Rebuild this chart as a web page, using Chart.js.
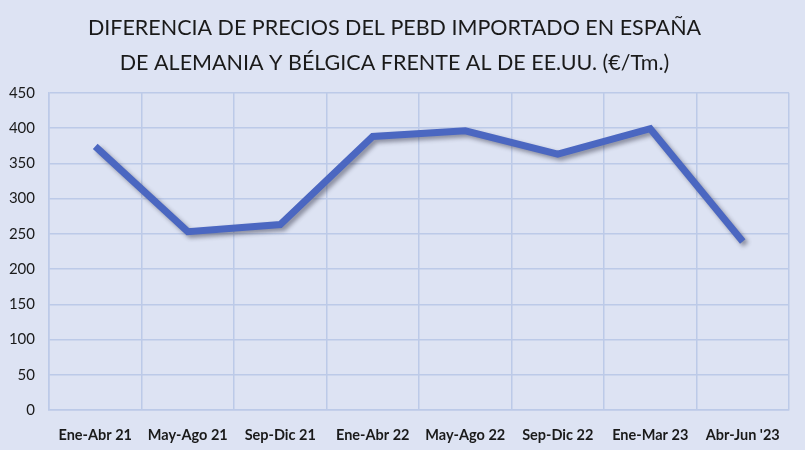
<!DOCTYPE html>
<html>
<head>
<meta charset="utf-8">
<script src="https://cdn.jsdelivr.net/npm/chart.js@4"></script>
<style>
	html, body { margin: 0; padding: 0; background: #dde3f3; }
	#wrap { width: 805px; height: 450px; }
</style>
</head>
<body>
<div id="wrap"><canvas id="chart"></canvas></div>
<script>
	const periodos = ["Ene-Abr 21", "May-Ago 21", "Sep-Dic 21", "Ene-Abr 22", "May-Ago 22", "Sep-Dic 22", "Ene-Mar 23", "Abr-Jun '23"];
	const diferencia = [374, 253, 263, 388, 396, 363, 399, 239];
	const titulo = [
		"DIFERENCIA DE PRECIOS DEL PEBD IMPORTADO EN ESPAÑA",
		"DE ALEMANIA Y BÉLGICA FRENTE AL DE EE.UU. (€/Tm.)",
	];

	const sombra = {
		id: "sombra",
		beforeDatasetDraw(chart) {
			const ctx = chart.ctx;
			ctx.save();
			ctx.shadowColor = "rgba(40, 40, 60, 0.45)";
			ctx.shadowBlur = 4;
			ctx.shadowOffsetX = 3;
			ctx.shadowOffsetY = 3;
		},
		afterDatasetDraw(chart) {
			chart.ctx.restore();
		},
	};

	new Chart(document.getElementById("chart"), {
		type: "line",
		data: {
			labels: periodos,
			datasets: [
				{
					label: "Diferencia",
					data: diferencia,
					borderColor: "#4b67c1",
					borderWidth: 7,
					pointRadius: 0,
					tension: 0,
					borderJoinStyle: "miter",
				},
			],
		},
		options: {
			responsive: true,
			maintainAspectRatio: false,
			animation: false,
			layout: { padding: { top: 11, right: 16, left: 0, bottom: 0 } },
			plugins: {
				legend: { display: false },
				tooltip: { enabled: false },
				title: {
					display: true,
					text: titulo,
					color: "#1a1a1a",
					font: { family: "Lato", size: 21.5, weight: "normal", lineHeight: 1.6 },
					padding: { top: 0, bottom: 13 },
				},
			},
			scales: {
				x: {
					offset: true,
					grid: { offset: true, color: "#bccae8", lineWidth: 1.5, drawTicks: false },
					border: { color: "#bccae8", width: 1.5 },
					ticks: {
						color: "#1a1a1a",
						font: { family: "Lato", size: 14.5, weight: "bold" },
						padding: 17,
						maxRotation: 0,
					},
					afterFit(scale) { scale.height = 40; },
				},
				y: {
					min: 0,
					max: 450,
					grid: { color: "#bccae8", lineWidth: 1.5, drawTicks: false },
					border: { color: "#bccae8", width: 1.5 },
					ticks: {
						stepSize: 50,
						color: "#1a1a1a",
						font: { family: "Lato", size: 15 },
						padding: 14,
					},
					afterFit(scale) { scale.width = 49; },
				},
			},
		},
		plugins: [sombra],
	});
</script>
</body>
</html>
